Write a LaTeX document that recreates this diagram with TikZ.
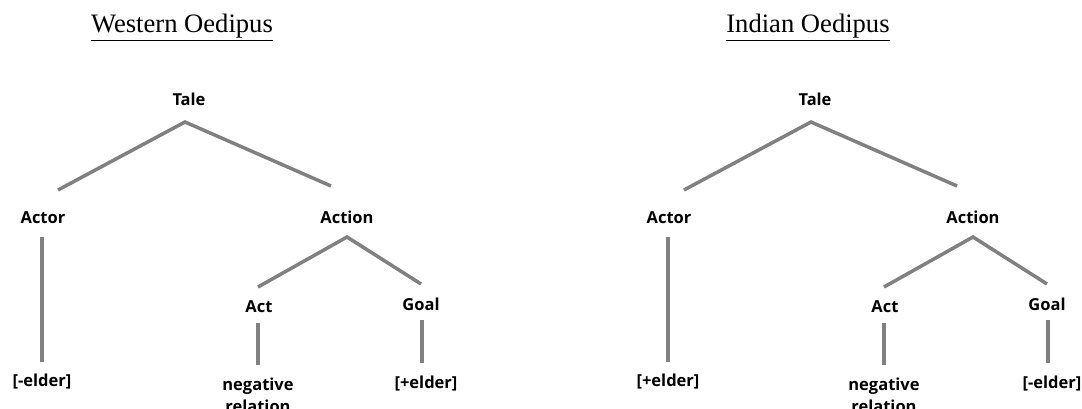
\documentclass[tikz,border=0pt]{standalone}
\usepackage{fontspec}
\setmainfont{Liberation Serif}
\newfontfamily\treefont{Open Sans}
\colorlet{branchcol}{black!50}
\tikzstyle{branch}=[line width=3.5pt,branchcol]
\tikzstyle{treetitle}=[font=\fontsize{26.6}{30}\selectfont,inner sep=0,anchor=base]
\tikzstyle{treelabel}=[font=\treefont\bfseries\fontsize{16.5}{22}\selectfont,inner sep=0,anchor=base,align=center]

\begin{document}
\begin{tikzpicture}[x=1pt,y=-1pt]
  \clip (0,0) rectangle (1082,409);

  \foreach \dx/\name/\actorval/\goalval in
    {0/Western Oedipus/{[-elder]}/{[+elder]},626/Indian Oedipus/{[+elder]}/{[-elder]}}{
  \begin{scope}[xshift=\dx]
    % TITLE
    \node[treetitle] (title\dx) at (182,33) {\underline{\name}};

    % LABELS
    \node[treelabel] (tale\dx)   at (189,106) {Tale};
    \node[treelabel] (actor\dx)  at (43,223)  {Actor};
    \node[treelabel] (action\dx) at (347,223) {Action};
    \node[treelabel] (act\dx)    at (259,312) {Act};
    \node[treelabel] (goal\dx)   at (421,310) {Goal};
    \node[treelabel] (actval\dx) at (42,386)  {\actorval};
    \node[treelabel] (rel\dx)    at (258,412) {negative\\relation};
    \node[treelabel] (goalval\dx) at (426,388) {\goalval};

    % BRANCH ENDS
    \coordinate (taleB\dx)   at (185,122);
    \coordinate (actorT\dx)  at (58,190);
    \coordinate (actionT\dx) at (331,186);
    \coordinate (actorB\dx)  at (42,237);
    \coordinate (actvalT\dx) at (42,362);
    \coordinate (actionB\dx) at (347,237);
    \coordinate (actT\dx)    at (258,287);
    \coordinate (goalT\dx)   at (421,284);
    \coordinate (actB\dx)    at (258,323);
    \coordinate (relT\dx)    at (258,365);
    \coordinate (goalB\dx)   at (422,320);
    \coordinate (goalvalT\dx) at (422,363);

    % BRANCHES
    \draw[branch] (actorT\dx) -- (taleB\dx) -- (actionT\dx);
    \draw[branch] (actorB\dx) -- (actvalT\dx);
    \draw[branch] (actT\dx) -- (actionB\dx) -- (goalT\dx);
    \draw[branch] (actB\dx) -- (relT\dx);
    \draw[branch] (goalB\dx) -- (goalvalT\dx);
  \end{scope}
  }
\end{tikzpicture}
\end{document}
